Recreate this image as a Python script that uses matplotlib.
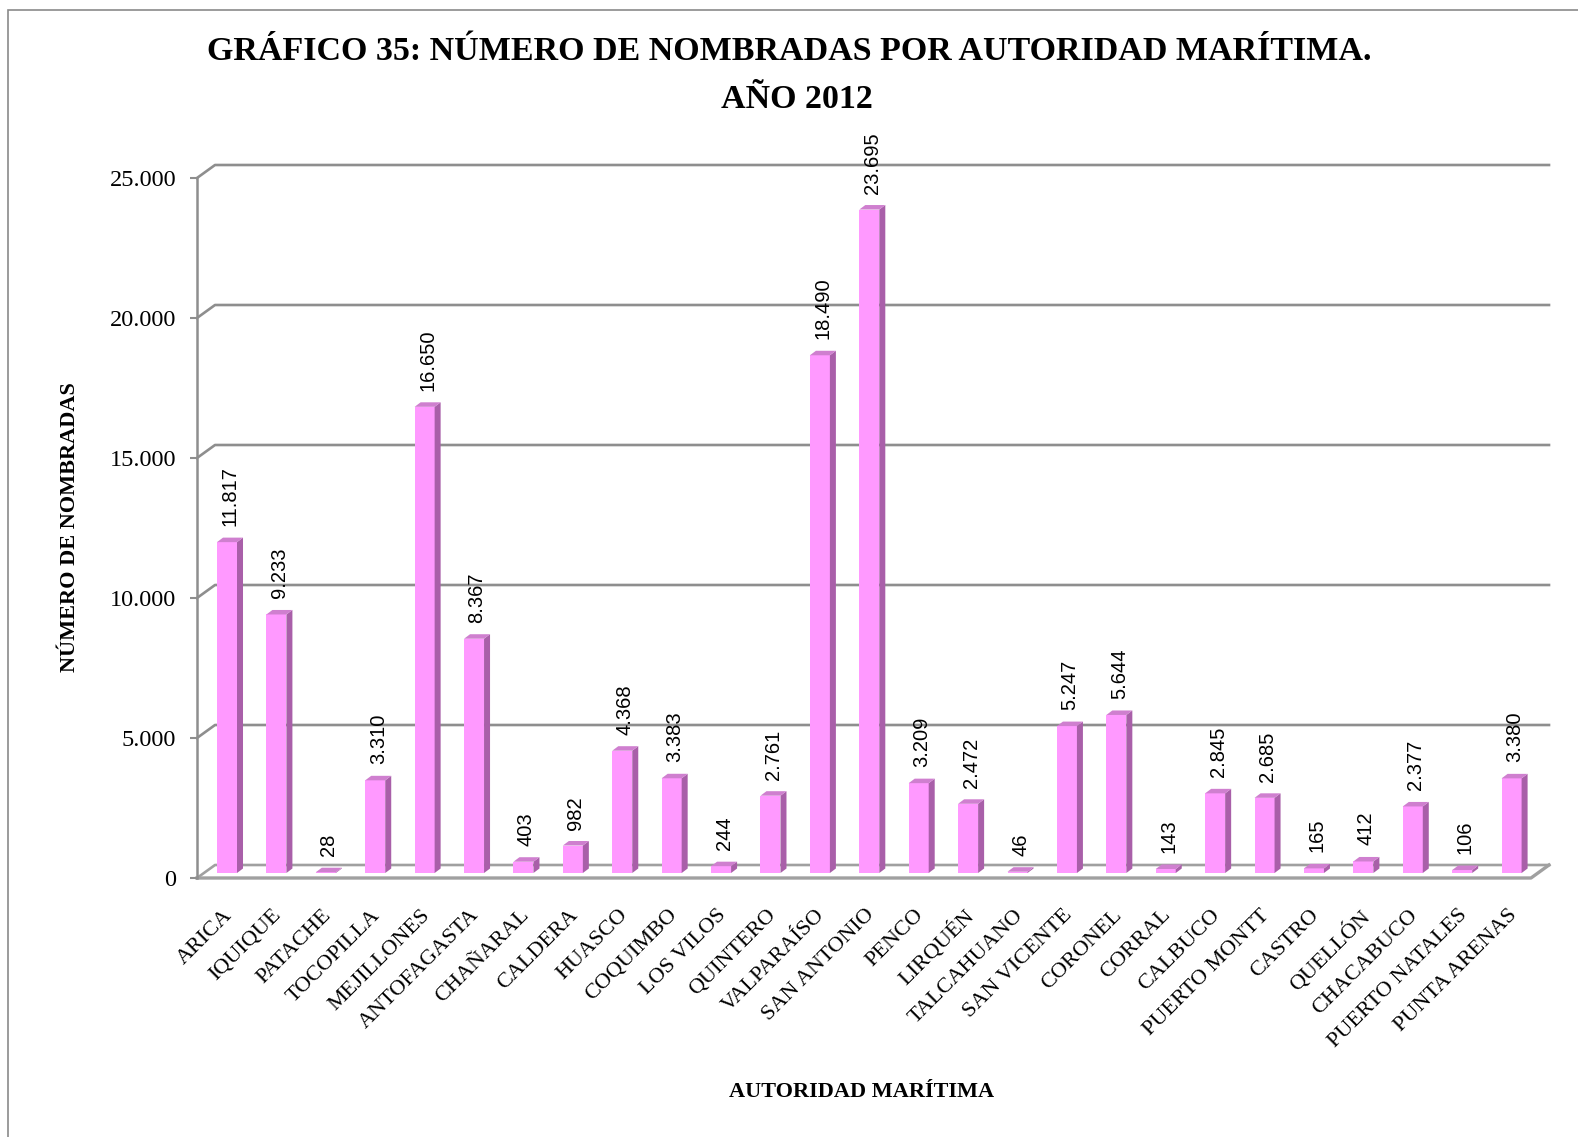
import matplotlib
matplotlib.use("Agg")
from matplotlib import pyplot as plt
from matplotlib import transforms as mtransforms
from matplotlib.patches import Polygon, Rectangle

# Nombradas por autoridad marítima, año 2012
autoridades = ["ARICA", "IQUIQUE", "PATACHE", "TOCOPILLA", "MEJILLONES", "ANTOFAGASTA",
               "CHAÑARAL", "CALDERA", "HUASCO", "COQUIMBO", "LOS VILOS", "QUINTERO",
               "VALPARAÍSO", "SAN ANTONIO", "PENCO", "LIRQUÉN", "TALCAHUANO", "SAN VICENTE",
               "CORONEL", "CORRAL", "CALBUCO", "PUERTO MONTT", "CASTRO", "QUELLÓN",
               "CHACABUCO", "PUERTO NATALES", "PUNTA ARENAS"]
nombradas = [11817, 9233, 28, 3310, 16650, 8367, 403, 982, 4368, 3383, 244, 2761,
             18490, 23695, 3209, 2472, 46, 5247, 5644, 143, 2845, 2685, 165, 412,
             2377, 106, 3380]
yticks = [0, 5000, 10000, 15000, 20000, 25000]

SERIF = "Liberation Serif"
SANS = "Liberation Sans"
FRONT = "#ff99ff"
SIDE = "#a95fa9"
TOP = "#cf7fcf"
GRID = "#8e8e8e"


def miles(v):
    return f"{v:,}".replace(",", ".")


W, H = 1578, 1137
fig = plt.figure(figsize=(W / 100, H / 100), dpi=100)

# outer chart frame
fig.patches.append(Rectangle((8 / W, -0.2), 1.2, 1.2 - 10 / H, transform=fig.transFigure,
                             fill=False, edgecolor="#8a8a8a", linewidth=1.2))

ax = fig.add_axes([197 / W, (H - 878) / H, 1334 / W, 700 / H])
n = len(autoridades)
ax.set_xlim(-0.5, n - 0.5)
ax.set_ylim(0, 25000)

# pixel -> data conversion for the fake depth
px_x = n / 1334.0
px_y = 25000 / 700.0
gx, gy = 18 * px_x, 13 * px_y     # depth of the back wall
bx, by = 5.3 * px_x, 5 * px_y     # bars sit halfway in
sx, sy = 6 * px_x, 4.5 * px_y     # bar thickness
w = 20 * px_x

for t in yticks:
    ax.plot([-0.5, -0.5 + gx, n - 0.5 + gx], [t, t + gy, t + gy],
            color=GRID if t else "#a0a0a0", linewidth=1.9, clip_on=False, zorder=1)
# floor
ax.plot([-0.5, n - 0.5, n - 0.5 + gx], [0, 0, gy], color="#a0a0a0",
        linewidth=2.4, clip_on=False, zorder=1)

xs = [i + bx for i in range(n)]
ax.bar(xs, nombradas, width=w, bottom=by, color=FRONT, linewidth=0, zorder=3, clip_on=False)
for x, v in zip(xs, nombradas):
    r = x + w / 2
    l = x - w / 2
    top = by + v
    ax.add_patch(Polygon([(r, by), (r + sx, by + sy), (r + sx, top + sy), (r, top)],
                         closed=True, facecolor=SIDE, edgecolor="none", zorder=3, clip_on=False))
    ax.add_patch(Polygon([(l, top), (r, top), (r + sx, top + sy), (l + sx, top + sy)],
                         closed=True, facecolor=TOP, edgecolor="none", zorder=3, clip_on=False))
    ax.annotate(miles(v), xy=(x, top), xytext=(3, 16), textcoords="offset pixels",
                rotation=90, ha="center", va="bottom", fontsize=14.5, family=SANS,
                annotation_clip=False)

# axes
for s in ["top", "right", "bottom"]:
    ax.spines[s].set_visible(False)
ax.spines["left"].set_color(GRID)
ax.spines["left"].set_linewidth(1.8)
ax.set_yticks(yticks)
ax.set_yticklabels([miles(t) for t in yticks], family=SERIF, fontsize=17.5)
ax.tick_params(axis="y", length=5, width=1.5, color=GRID, pad=10)

ax.set_xticks(range(n))
ax.set_xticklabels(autoridades, family=SERIF, fontsize=16, rotation=45,
                   ha="right", va="top", rotation_mode="anchor")
ax.tick_params(axis="x", length=0, pad=20)
shift = mtransforms.ScaledTranslation(1 / 100, 0, fig.dpi_scale_trans)
for lab in ax.get_xticklabels():
    lab.set_transform(lab.get_transform() + shift)

fig.text(70 / W, 1 - 527 / H, "NÚMERO DE NOMBRADAS", rotation=90, ha="center", va="center",
         family=SERIF, fontweight="bold", fontsize=16)
fig.text(862 / W, 1 - 1092 / H, "AUTORIDAD MARÍTIMA", ha="center", va="center",
         family=SERIF, fontweight="bold", fontsize=16)
fig.text(789 / W, 1 - 52 / H, "GRÁFICO 35: NÚMERO DE NOMBRADAS POR AUTORIDAD MARÍTIMA.",
         ha="center", va="center", family=SERIF, fontweight="bold", fontsize=24.5)
fig.text(797 / W, 1 - 99 / H, "AÑO 2012",
         ha="center", va="center", family=SERIF, fontweight="bold", fontsize=24.5)

fig.savefig("out.png", dpi=100)
